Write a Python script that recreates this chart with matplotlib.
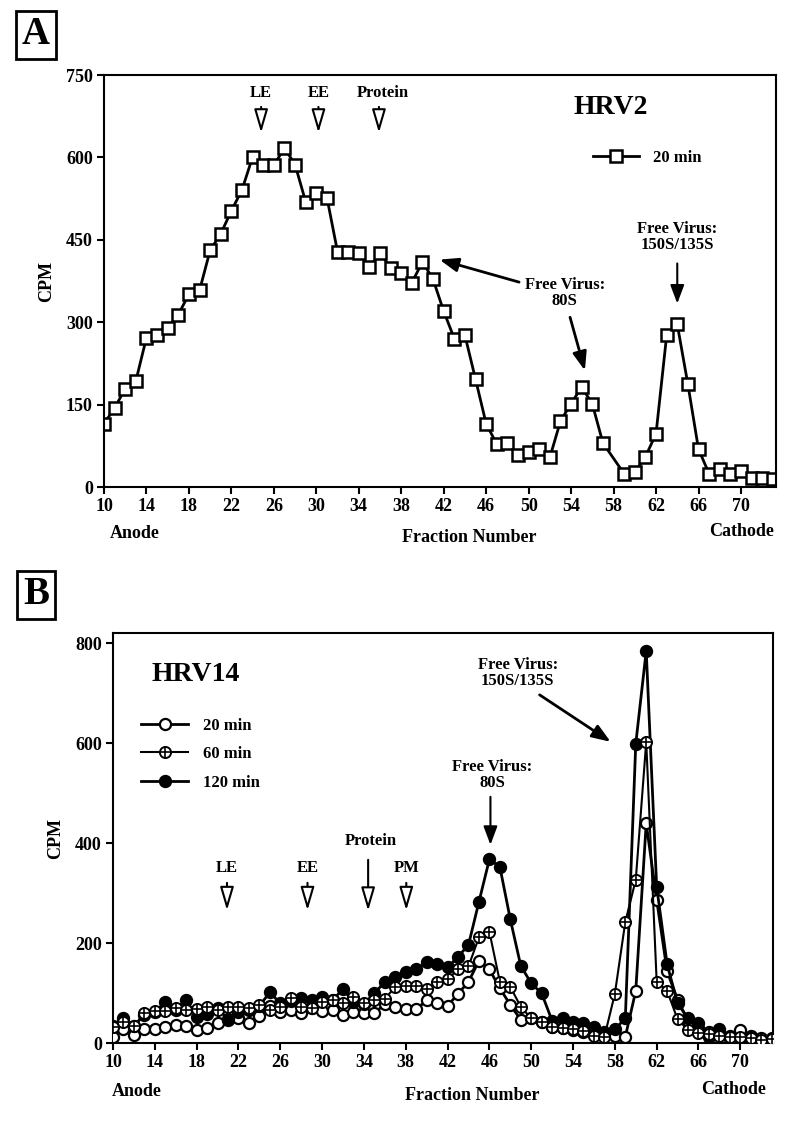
import matplotlib
matplotlib.use("Agg")
import matplotlib.pyplot as plt

# ---- data ----
# panel A, HRV2 20 min (fraction 58 not measured)
hrv2_frac = [10, 11, 12, 13, 14, 15, 16, 17, 18, 19, 20, 21, 22, 23, 24, 25, 26, 27,
             28, 29, 30, 31, 32, 33, 34, 35, 36, 37, 38, 39, 40, 41, 42, 43, 44, 45,
             46, 47, 48, 49, 50, 51, 52, 53, 54, 55, 56, 57, 59, 60, 61, 62, 63, 64,
             65, 66, 67, 68, 69, 70, 71, 72, 73]
hrv2_20min = [115, 144, 179, 193, 272, 276, 290, 314, 351, 358, 431, 461, 503, 541,
              601, 586, 586, 617, 587, 519, 535, 527, 428, 428, 426, 400, 426, 399,
              390, 372, 410, 378, 320, 270, 276, 196, 115, 78, 80, 58, 63, 70, 54,
              120, 152, 182, 151, 80, 24, 27, 55, 97, 276, 296, 187, 69, 24, 32, 24,
              29, 17, 17, 15]

# panel B, HRV14
hrv14_frac = [10, 11, 12, 13, 14, 15, 16, 17, 18, 19, 20, 21, 22, 23, 24, 25, 26, 27,
              28, 29, 30, 31, 32, 33, 34, 35, 36, 37, 38, 39, 40, 41, 42, 43, 44, 45,
              46, 47, 48, 49, 50, 51, 52, 53, 54, 55, 56, 57, 58, 59, 60, 61, 62, 63,
              64, 65, 66, 67, 68, 69, 70, 71, 72, 73]
hrv14_20min = [13, 28, 16, 28, 28, 32, 37, 35, 27, 30, 40, 46, 50, 41, 55, 75, 62, 67,
               60, 70, 64, 67, 57, 63, 61, 60, 79, 73, 68, 68, 86, 80, 75, 99, 123, 165,
               148, 110, 77, 47, 50, 43, 33, 30, 27, 23, 17, 15, 14, 13, 105, 440, 287,
               144, 87, 45, 30, 22, 20, 15, 26, 15, 10, 10]
hrv14_60min = [32, 43, 35, 60, 65, 65, 70, 67, 68, 73, 67, 73, 73, 70, 77, 67, 72, 90,
               73, 70, 83, 87, 80, 93, 80, 86, 89, 113, 114, 114, 109, 122, 128, 148,
               154, 212, 223, 123, 113, 73, 50, 43, 33, 30, 28, 25, 15, 13, 99, 243,
               327, 603, 123, 105, 48, 27, 20, 19, 15, 13, 12, 10, 7, 8]
hrv14_120min = [35, 51, 35, 57, 62, 83, 67, 87, 53, 58, 70, 49, 63, 67, 75, 102, 80, 85,
                90, 87, 93, 87, 108, 83, 79, 100, 123, 133, 143, 148, 162, 158, 152,
                173, 197, 283, 368, 353, 248, 155, 120, 100, 45, 50, 43, 40, 32, 23, 28,
                50, 599, 785, 313, 158, 80, 50, 40, 12, 28, 8, 8, 10, 3, 8]

xticks = [10, 14, 18, 22, 26, 30, 34, 38, 42, 46, 50, 54, 58, 62, 66, 70]
yticks_a = [0, 150, 300, 450, 600, 750]
yticks_b = [0, 200, 400, 600, 800]

plt.rcParams['font.family'] = ['Liberation Serif', 'DejaVu Serif']
plt.rcParams['font.weight'] = 'bold'
plt.rcParams['axes.linewidth'] = 1.5

W, H = 800, 1125
fig = plt.figure(figsize=(8, 11.25), dpi=100)


def px(x, y):
    return x / W, 1 - y / H


def style_axes(ax, yticks, ylim):
    ax.set_xlim(10, 73.3)
    ax.set_ylim(*ylim)
    ax.set_xticks(xticks)
    ax.set_yticks(yticks)
    ax.tick_params(direction='out', length=5, width=1.5, labelsize=13, pad=3)
    ax.set_ylabel('CPM', fontsize=13, fontweight='bold', labelpad=8)


def arrow(ax, tip, start, hollow=False, lw=1.5, scale=15):
    if hollow:
        props = dict(arrowstyle='-|>,head_length=0.75,head_width=0.22', lw=lw,
                     fc='white', ec='black', shrinkA=0, shrinkB=0,
                     mutation_scale=scale)
    else:
        props = dict(arrowstyle='-|>,head_length=0.8,head_width=0.3', lw=lw,
                     color='black', shrinkA=0, shrinkB=0, mutation_scale=scale)
    ax.annotate('', xy=tip, xytext=start, arrowprops=props)


# ================= Panel A =================
ax1 = fig.add_axes([0.13, 0.5671, 0.84, 0.3662])
ax1.plot(hrv2_frac, hrv2_20min, color='black', lw=2, marker='s', ms=8,
         mfc='white', mec='black', mew=1.8, label='20 min')
style_axes(ax1, yticks_a, (0, 750))

ax1.text(57.7, 690, 'HRV2', fontsize=20, fontweight='bold', ha='center', va='center')
ax1.legend(loc='upper left', bbox_to_anchor=(0.705, 0.855), frameon=False,
           fontsize=12, handlelength=2.8, handletextpad=0.8)

for lab, x in [('LE', 24.8), ('EE', 30.2)]:
    ax1.text(x, 717, lab, fontsize=12, ha='center', va='center')
    arrow(ax1, (x, 645), (x, 692), hollow=True, scale=19)
ax1.text(36.3, 717, 'Protein', fontsize=12, ha='center', va='center')
arrow(ax1, (35.9, 645), (35.9, 692), hollow=True, scale=19)

ax1.text(53.4, 354, 'Free Virus:\n80S', fontsize=12, ha='center', va='center',
         linespacing=1.0)
arrow(ax1, (41.6, 414), (49.1, 373), lw=2, scale=14)
arrow(ax1, (55.3, 212), (53.9, 309), lw=2, scale=14)

ax1.text(64.0, 456, 'Free Virus:\n150S/135S', fontsize=12, ha='center', va='center',
         linespacing=1.0)
arrow(ax1, (64.0, 334), (64.0, 407), lw=1.5, scale=14)

fig.text(*px(110, 533), 'Anode', fontsize=13, ha='left', va='center')
fig.text(*px(469, 537), 'Fraction Number', fontsize=13, ha='center', va='center')
fig.text(*px(742, 531), 'Cathode', fontsize=13, ha='center', va='center')
fig.text(*px(36, 35), 'A', fontsize=28, ha='center', va='center',
         bbox=dict(boxstyle='square,pad=0.15', fc='white', ec='black', lw=2))

# ================= Panel B =================
ax2 = fig.add_axes([0.1413, 0.0726, 0.8246, 0.3647])
ax2.plot(hrv14_frac, hrv14_20min, color='black', lw=2, marker='o', ms=8,
         mfc='white', mec='black', mew=1.6, zorder=3)
l120, = ax2.plot(hrv14_frac, hrv14_120min, color='black', lw=2, marker='o', ms=8,
                 mfc='black', mec='black', mew=1.6, zorder=4)
l60c, = ax2.plot(hrv14_frac, hrv14_60min, color='black', lw=1.5, marker='o', ms=8,
                 mfc='white', mec='black', mew=1.4, zorder=5)
l60p, = ax2.plot(hrv14_frac, hrv14_60min, ls='none', marker='+', ms=8,
                 mec='black', mew=1.2, zorder=6)
style_axes(ax2, yticks_b, (0, 820.6))
ax2.set_xlim(10, 73.1)

h20, = ax2.plot([], [], color='black', lw=2, marker='o', ms=8, mfc='white',
                mec='black', mew=1.6)
ax2.legend([h20, (l60c, l60p), l120], ['20 min', '60 min', '120 min'],
           loc='upper left', bbox_to_anchor=(0.02, 0.83), frameon=False,
           fontsize=12, handlelength=2.8, handletextpad=0.9, labelspacing=0.75)

ax2.text(13.7, 737, 'HRV14', fontsize=20, fontweight='bold', ha='left', va='center')

for lab, x in [('LE', 20.9), ('EE', 28.6), ('PM', 38.05)]:
    ax2.text(x, 350, lab, fontsize=12, ha='center', va='center')
    arrow(ax2, (x, 266), (x, 321), hollow=True, scale=19)
ax2.text(34.7, 405, 'Protein', fontsize=12, ha='center', va='center')
arrow(ax2, (34.4, 265), (34.4, 367), hollow=True, scale=19)

ax2.text(46.3, 537, 'Free Virus:\n80S', fontsize=12, ha='center', va='center',
         linespacing=1.0)
arrow(ax2, (46.1, 397), (46.1, 493), lw=1.5, scale=14)

ax2.text(48.7, 740, 'Free Virus:\n150S/135S', fontsize=12, ha='center', va='center',
         linespacing=1.0)
arrow(ax2, (57.6, 603), (50.8, 697), lw=2, scale=14)

fig.text(*px(112, 1092), 'Anode', fontsize=13, ha='left', va='center')
fig.text(*px(472, 1095), 'Fraction Number', fontsize=13, ha='center', va='center')
fig.text(*px(734, 1089), 'Cathode', fontsize=13, ha='center', va='center')
fig.text(*px(36, 595), 'B', fontsize=28, ha='center', va='center',
         bbox=dict(boxstyle='square,pad=0.15', fc='white', ec='black', lw=2))

fig.savefig('out.png', dpi=100)
